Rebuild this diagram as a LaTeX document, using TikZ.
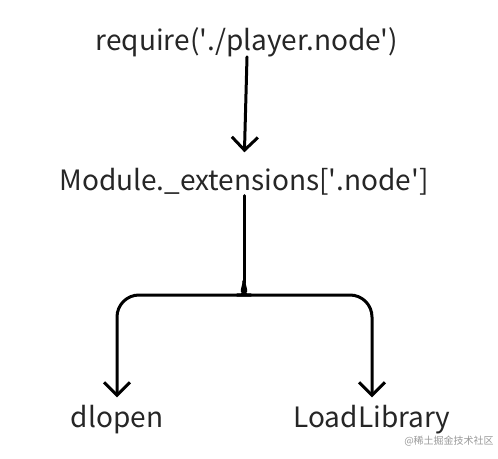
\documentclass[tikz,border=0pt]{standalone}
\usepackage{fontspec}
\setmainfont{Noto Sans CJK SC}
\usetikzlibrary{arrows.meta,positioning,calc}
\newcommand{\sq}{\textquotesingle}
\tikzset{
  label/.style={font=\fontsize{28}{33}\selectfont,text=black!85,inner sep=0pt},
  flow/.style={line width=3pt,line join=round,line cap=round,-{Straight Barb[length=13pt,width=26pt,line width=3pt]}},
  stem/.style={line width=3pt,line cap=round}
}

\begin{document}
\begin{tikzpicture}[x=1pt,y=-1pt]
  \useasboundingbox (0,0) rectangle (498,458);
  \node[label] (req) at (247,42) {require(\sq./player.node\sq)};
  \node[label] (mod) at (244,182) {Module.\_extensions[\sq.node\sq]};
  \node[label] (dl) at (117,420) {dlopen};
  \node[label] (ll) at (372,420) {LoadLibrary};
  \node[font=\fontsize{10}{12}\selectfont,text=black!40,inner sep=0pt] (wm) at (449,441) {@稀土掘金技术社区};
  % junction of the two branches
  \coordinate (j) at (mod.south |- 0,281);
  \draw[flow,shorten >=16pt] (req.south) -- (mod.north);
  \draw[stem] (mod.south) -- ($(j)+(0,2)$);
  \draw[flow,shorten >=8pt,rounded corners=22pt] (j) to[out=-90,in=0] ++(-15,14) -| (dl.north);
  \draw[flow,shorten >=8pt,rounded corners=22pt] (j) to[out=-90,in=180] ++(15,14) -| (ll.north);
\end{tikzpicture}
\end{document}
